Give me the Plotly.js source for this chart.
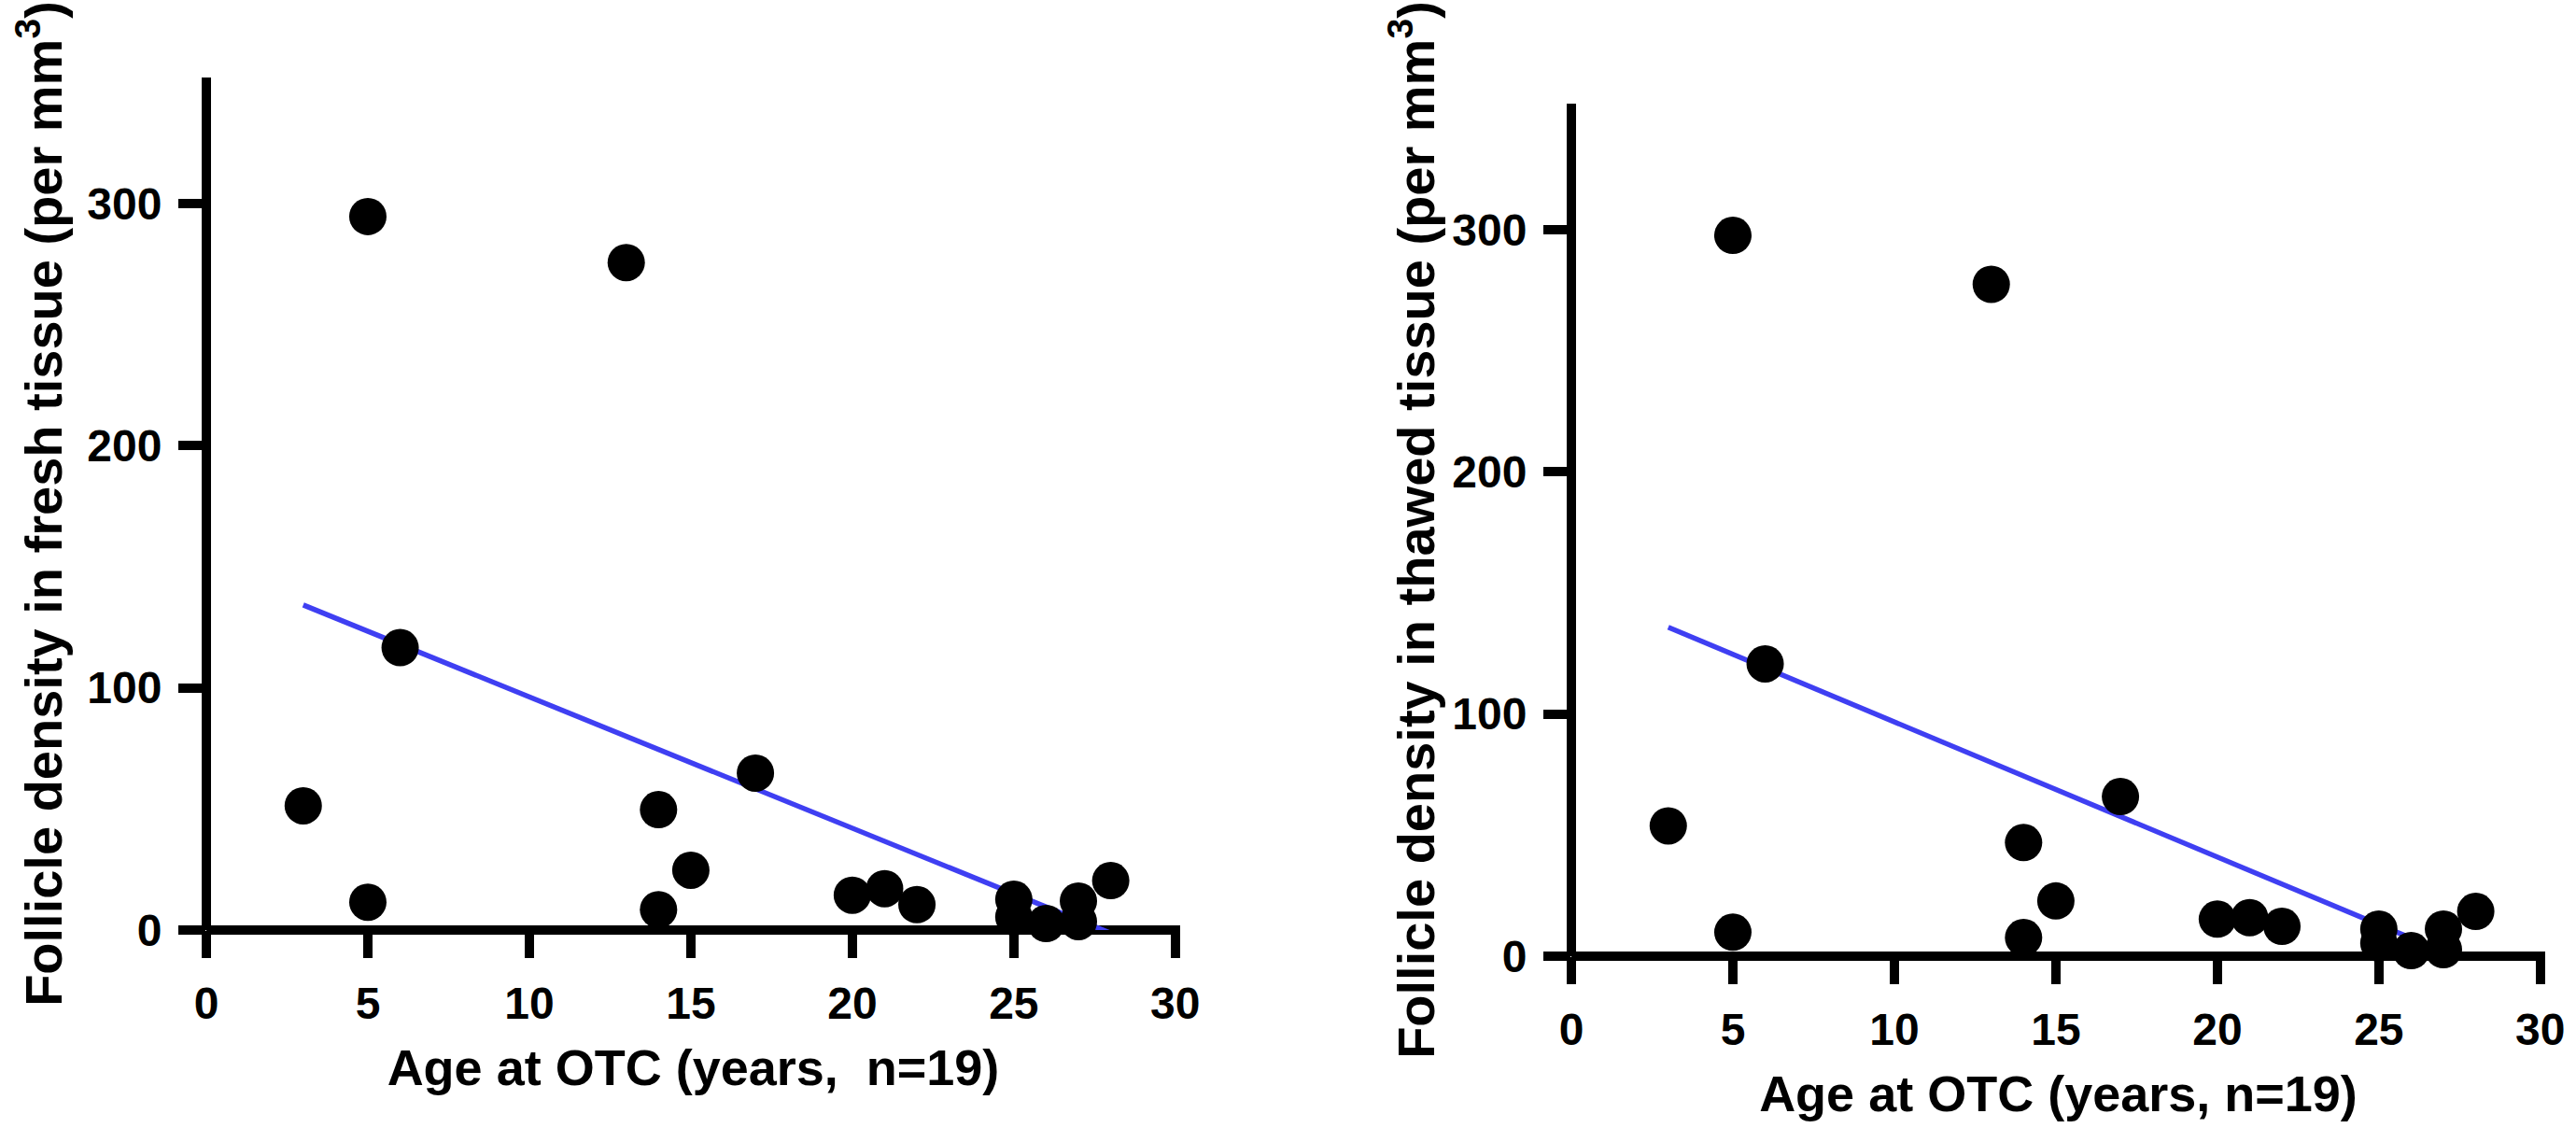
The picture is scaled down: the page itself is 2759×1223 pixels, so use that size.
<!DOCTYPE html>
<html>
<head>
<meta charset="utf-8">
<script src="https://cdn.plot.ly/plotly-3.0.1.min.js"></script>
<style>html,body{margin:0;padding:0;background:#fff;}</style>
</head>
<body>
<div id="chart" style="width:2759px;height:1223px;"></div>
<script>
// ---- data ----
var ageFresh   = [3, 5, 5, 6, 13, 14, 14, 15, 17, 20, 21, 22, 25, 25, 26, 27, 27, 28];
var densFresh  = [51.3, 294.6, 11.5, 116.6, 275.6, 49.7, 8.4, 24.7, 64.8, 14.4, 17.1, 10.5, 12.7, 5.4, 2.7, 12.0, 3.5, 20.4];
var ageThawed  = [3, 5, 5, 6, 13, 14, 14, 15, 17, 20, 21, 22, 25, 25, 26, 27, 27, 28];
var densThawed = [53.8, 297.6, 9.9, 120.7, 277.4, 46.9, 7.7, 22.8, 65.9, 15.3, 15.9, 12.3, 11.2, 5.4, 2.3, 11.2, 2.7, 18.5];
var fitFreshX  = [3, 28];
var fitFreshY  = [134.2, -1.3];
var fitThawedX = [3, 28];
var fitThawedY = [135.8, -3.7];
var xTickVals  = [0, 5, 10, 15, 20, 25, 30];
var yTickVals  = [0, 100, 200, 300];
var xTitleFresh  = 'Age at OTC (years,\u00a0 n=19)';
var xTitleThawed = 'Age at OTC (years, n=19)';
var yTitleFresh  = 'Follicle density in fresh tissue (per mm<sup>3</sup>)';
var yTitleThawed = 'Follicle density in thawed tissue (per mm<sup>3</sup>)';

var W = 2759, H = 1223;
var FONT = '"Liberation Sans", Arial, Helvetica, sans-serif';
var blue = '#3f3ff2';

function markers(x, y, xa, ya) {
  return {x: x, y: y, xaxis: xa, yaxis: ya, type: 'scatter', mode: 'markers',
          cliponaxis: false, marker: {size: 40, color: '#000'}, hoverinfo: 'skip', showlegend: false};
}
function fit(x, y, xa, ya) {
  return {x: x, y: y, xaxis: xa, yaxis: ya, type: 'scatter', mode: 'lines',
          cliponaxis: true, line: {color: blue, width: 5.5}, hoverinfo: 'skip', showlegend: false};
}

var data = [
  fit(fitFreshX, fitFreshY, 'x', 'y'),
  markers(ageFresh, densFresh, 'x', 'y'),
  fit(fitThawedX, fitThawedY, 'x2', 'y2'),
  markers(ageThawed, densThawed, 'x2', 'y2')
];

function xAxis(d0, d1, anchor, title) {
  return {domain: [d0 / W, d1 / W], anchor: anchor, range: [0, 30.15], fixedrange: true,
    showline: false, showgrid: false, zeroline: true, zerolinewidth: 10, zerolinecolor: '#000',
    ticks: 'outside', ticklen: 29, tickwidth: 10, tickcolor: '#000',
    tickmode: 'array', tickvals: xTickVals, ticklabelstandoff: 7,
    tickfont: {family: FONT, size: 48, color: '#000', weight: 'bold'},
    title: {text: title, standoff: 24, font: {family: FONT, size: 54, color: '#000', weight: 'bold'}}};
}
function yAxis(bottomPx, topPx, anchor, title, standoff) {
  return {domain: [1 - bottomPx / H, 1 - topPx / H], anchor: anchor, range: [0, 352], fixedrange: true,
    showline: false, showgrid: false, zeroline: true, zerolinewidth: 10, zerolinecolor: '#000',
    ticks: 'outside', ticklen: 29, tickwidth: 10, tickcolor: '#000',
    tickmode: 'array', tickvals: yTickVals, ticklabelstandoff: 8,
    tickfont: {family: FONT, size: 48, color: '#000', weight: 'bold'},
    title: {text: title, standoff: standoff, font: {family: FONT, size: 56, color: '#000', weight: 'bold'}}};
}

var layout = {
  width: W, height: H, autosize: false,
  margin: {l: 0, r: 0, t: 0, b: 0, pad: 0},
  paper_bgcolor: '#fff', plot_bgcolor: 'rgba(0,0,0,0)',
  showlegend: false,
  xaxis:  xAxis(221, 1264, 'y', xTitleFresh),
  yaxis:  yAxis(996, 83, 'x', yTitleFresh, 8),
  xaxis2: xAxis(1683, 2726, 'y2', xTitleThawed),
  yaxis2: yAxis(1024, 111, 'x2', yTitleThawed, 0)
};

Plotly.newPlot('chart', data, layout, {staticPlot: true, displayModeBar: false});
</script>
</body>
</html>
